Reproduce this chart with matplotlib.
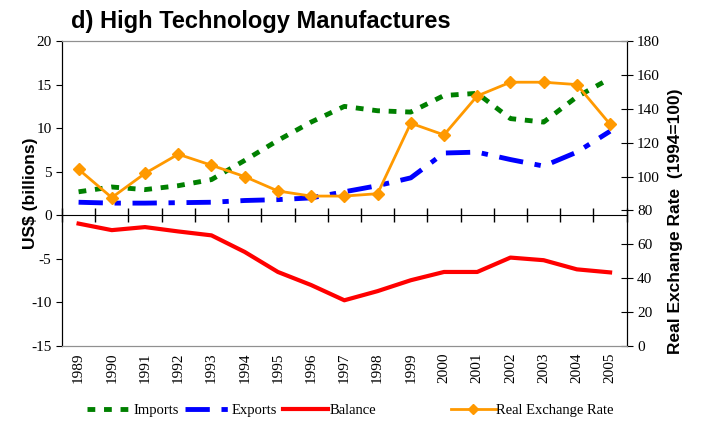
import numpy as np
import matplotlib
matplotlib.use('Agg')
import matplotlib.pyplot as plt
from matplotlib.lines import Line2D

plt.rcParams['axes.unicode_minus'] = False

# data
years = [str(y) for y in range(1989, 2006)]
imports = [2.7, 3.25, 2.95, 3.4, 4.1, 6.3, 8.6, 10.7, 12.5, 12.0, 11.85, 13.75, 14.0, 11.1, 10.7, 13.6, 15.7]
exports = [1.5, 1.4, 1.4, 1.45, 1.5, 1.7, 1.8, 2.0, 2.7, 3.4, 4.3, 7.15, 7.25, 6.4, 5.65, 7.25, 9.65]
balance = [-0.95, -1.7, -1.35, -1.85, -2.3, -4.2, -6.5, -8.0, -9.75, -8.7, -7.45, -6.5, -6.5, -4.85, -5.15, -6.2, -6.55]
rer = [104.3, 87.6, 101.9, 113.2, 106.7, 100.0, 91.5, 88.5, 88.5, 89.9, 131.5, 124.6, 147.6, 155.7, 155.7, 154.3, 130.9]

serif = 'Liberation Serif'
sans = 'Liberation Sans'

fig = plt.figure(figsize=(7.01, 4.32), dpi=100)
ax = fig.add_axes([0.0884, 0.199, 0.8056, 0.706])
ax2 = ax.twinx()

x = np.arange(len(years))

ax.plot(x, imports, color='#008000', lw=3.5, dashes=(1.6, 1.8), dash_capstyle='butt', label='Imports')
ax.plot(x, exports, color='#0000FF', lw=3.5, dashes=(5, 2.4, 1.3, 2.4), dash_capstyle='butt', label='Exports')
ax.plot(x, balance, color='#FF0000', lw=3, label='Balance')
ax2.plot(x, rer, color='#FF9900', lw=2, marker='D', ms=6, label='Real Exchange Rate')

ax.set_xlim(-0.5, len(years) - 0.5)
ax.set_ylim(-15, 20)
ax.set_yticks(np.arange(-15, 21, 5))
ax2.set_ylim(0, 180)
ax2.set_yticks(np.arange(0, 181, 20))

# category labels at the bottom, no ticks there
ax.set_xticks(x)
ax.set_xticklabels(years, rotation=90, fontfamily=serif, fontsize=11)
ax.tick_params(axis='x', length=0, pad=5)
ax.tick_params(axis='y', direction='out', length=4, labelsize=11)
ax2.tick_params(axis='y', direction='inout', length=8, labelsize=11)
for lab in ax.get_yticklabels() + ax2.get_yticklabels():
    lab.set_fontfamily(serif)

# axis crossing at zero with tick marks between categories
zero_ax = ax.secondary_xaxis(15 / 35)
zero_ax.set_xticks(np.arange(-0.5, len(years), 1.0))
zero_ax.set_xticklabels([])
zero_ax.tick_params(direction='inout', length=10, width=1)
zero_ax.spines['bottom'].set_color('black')

for a in (ax, ax2):
    a.spines['top'].set_color('#909090')
    a.spines['bottom'].set_color('#909090')
    a.spines['left'].set_color('black')
    a.spines['right'].set_color('black')

ax.set_ylabel('US$ (billions)', fontfamily=sans, fontweight='bold', fontsize=12.5)
ax.yaxis.set_label_coords(-0.043, 0.5)
ax2.set_ylabel('Real Exchange Rate  (1994=100)', fontfamily=sans, fontweight='bold', fontsize=12.5,
               rotation=90)
ax2.yaxis.set_label_coords(1.073, 0.41)

fig.text(0.101, 0.935, 'd) High Technology Manufactures', fontfamily=sans, fontweight='bold', fontsize=17)

# legend
h = [Line2D([], [], color='#008000', lw=3.5, dashes=(1.6, 1.8)),
     Line2D([], [], color='#0000FF', lw=3.5, dashes=(5, 2.4, 1.3, 2.4)),
     Line2D([], [], color='#FF0000', lw=3)]
fig.legend(h, ['Imports', 'Exports', 'Balance'], loc='center left', bbox_to_anchor=(0.106, 0.05),
           ncol=3, frameon=False, handlelength=3.1, handletextpad=0.05, columnspacing=0.45,
           prop={'family': serif, 'size': 10.5})
h2 = [Line2D([], [], color='#FF9900', lw=2, marker='D', ms=5)]
fig.legend(h2, ['Real Exchange Rate'], loc='center left', bbox_to_anchor=(0.624, 0.05),
           frameon=False, handlelength=3.1, handletextpad=0.05, prop={'family': serif, 'size': 10.5})

fig.savefig('out.png', dpi=100)
